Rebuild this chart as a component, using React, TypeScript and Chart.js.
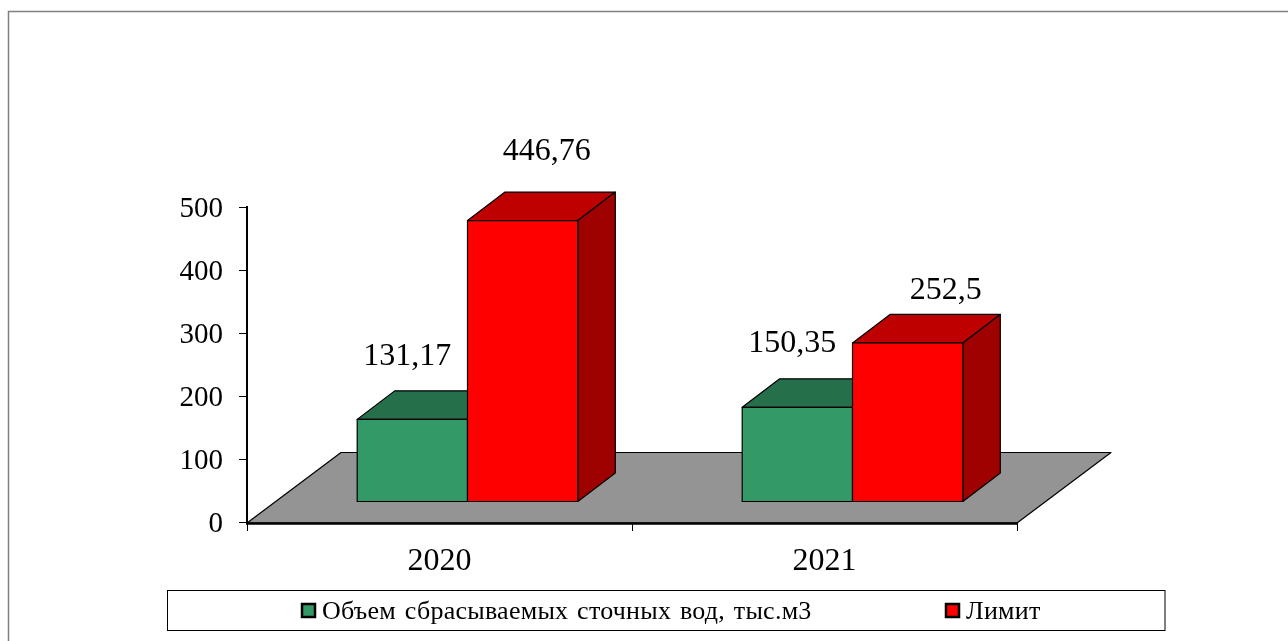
import React, { useEffect, useRef } from "react";
import { Chart, registerables } from "chart.js";

Chart.register(...registerables);

const categories = ["2020", "2021"];
const seriesNames = ["Объем сбрасываемых сточных вод, тыс.м3", "Лимит"];
const drainedVolume = [131.17, 150.35];
const limitVolume = [446.76, 252.5];
const frontColors = ["#339966", "#FF0000"];
const topColors = ["#266F4B", "#BF0000"];
const sideColors = ["#1F5A3D", "#9F0000"];
const labelTexts = [["131,17", "150,35"], ["446,76", "252,5"]];
const labelDx = [[-5, -5], [24, 38]];
const labelDy = [[-62.5, -63.5], [-68.5, -52.5]];

const SERIF = "'Liberation Serif', 'Times New Roman', serif";
const FLOOR_DX = 94, FLOOR_DY = -70.5;
const SHIFT_X = 28, SHIFT_Y = -20;
const DEPTH_X = 37.5, DEPTH_Y = -28.5;

function poly(ctx: CanvasRenderingContext2D, pts: number[][], fill: string) {
  ctx.beginPath();
  pts.forEach((p, i) => (i ? ctx.lineTo(p[0], p[1]) : ctx.moveTo(p[0], p[1])));
  ctx.closePath();
  ctx.fillStyle = fill;
  ctx.fill();
  ctx.lineWidth = 1.2;
  ctx.strokeStyle = "#000";
  ctx.lineJoin = "round";
  ctx.stroke();
}

const threeD = {
  id: "threeD",
  afterLayout(chart: any) {
    chart.scales.y.getLabelItems(chart.chartArea).forEach((it: any) => {
      const t = it.options.translation;
      it.options.translation = [t[0], t[1] + 2];
    });
  },
  beforeDraw(chart: any) {
    const { ctx } = chart;
    ctx.save();
    ctx.fillStyle = "#fff";
    ctx.fillRect(0, 0, chart.width, chart.height);
    ctx.strokeStyle = "#808080";
    ctx.lineWidth = 1.5;
    ctx.beginPath();
    ctx.moveTo(8.5, chart.height);
    ctx.lineTo(8.5, 11.5);
    ctx.lineTo(chart.width, 11.5);
    ctx.stroke();
    ctx.restore();
  },
  beforeDatasetsDraw(chart: any) {
    const { ctx, chartArea: a } = chart;
    ctx.save();
    const y0 = chart.scales.y.getPixelForValue(0) + 1;
    poly(ctx, [
      [a.left, y0],
      [a.right, y0],
      [a.right + FLOOR_DX, y0 + FLOOR_DY],
      [a.left + FLOOR_DX, y0 + FLOOR_DY],
    ], "#949494");
    ctx.translate(SHIFT_X, SHIFT_Y);
    chart.data.datasets.forEach((_: any, d: number) => {
      const meta = chart.getDatasetMeta(d);
      meta.data.forEach((bar: any) => {
        const l = bar.x - bar.width / 2, r = bar.x + bar.width / 2, t = bar.y, b = bar.base;
        poly(ctx, [[l, t], [r, t], [r + DEPTH_X, t + DEPTH_Y], [l + DEPTH_X, t + DEPTH_Y]], topColors[d]);
        poly(ctx, [[r, t], [r, b], [r + DEPTH_X, b + DEPTH_Y], [r + DEPTH_X, t + DEPTH_Y]], sideColors[d]);
      });
      meta.controller.draw();
      meta.data.forEach((bar: any) => {
        ctx.lineWidth = 1.2;
        ctx.strokeStyle = "#000";
        ctx.strokeRect(bar.x - bar.width / 2, bar.y, bar.width, bar.base - bar.y);
      });
    });
    ctx.restore();
  },
  beforeDatasetDraw() {
    return false;
  },
  afterDatasetsDraw(chart: any) {
    const { ctx, chartArea: a } = chart;
    ctx.save();
    ctx.strokeStyle = "#000";
    ctx.lineWidth = 2.5;
    ctx.beginPath();
    ctx.moveTo(a.left - 1, a.bottom + 1.5);
    ctx.lineTo(a.right, a.bottom + 1.5);
    ctx.stroke();
    ctx.fillStyle = "#000";
    ctx.font = `32px ${SERIF}`;
    ctx.textAlign = "center";
    ctx.textBaseline = "middle";
    chart.data.datasets.forEach((_: any, d: number) => {
      chart.getDatasetMeta(d).data.forEach((bar: any, i: number) => {
        ctx.fillText(labelTexts[d][i], bar.x + SHIFT_X + labelDx[d][i], bar.y + SHIFT_Y + labelDy[d][i]);
      });
    });
    ctx.restore();
  },
  afterDraw(chart: any) {
    const { ctx } = chart;
    ctx.save();
    ctx.strokeStyle = "#000";
    ctx.lineWidth = 1;
    ctx.fillStyle = "#fff";
    ctx.fillRect(167.5, 590.5, 997.5, 40);
    ctx.strokeRect(167.5, 590.5, 997.5, 40);
    ctx.font = `26px ${SERIF}`;
    ctx.textBaseline = "middle";
    ctx.textAlign = "left";
    (ctx as any).wordSpacing = "2px";
    (ctx as any).letterSpacing = "0.25px";
    const xs = [301, 945];
    chart.data.datasets.forEach((ds: any, i: number) => {
      ctx.fillStyle = ds.backgroundColor;
      ctx.lineWidth = 2.5;
      ctx.fillRect(xs[i] + 1, 604, 13, 13);
      ctx.strokeRect(xs[i] + 1, 604, 13, 13);
      ctx.fillStyle = "#000";
      ctx.fillText(ds.label, xs[i] + 21, 612);
    });
    ctx.restore();
  },
};

export default function App() {
  const ref = useRef<HTMLCanvasElement>(null);
  useEffect(() => {
    document.body.style.margin = "0";
    const chart = new Chart(ref.current!, {
      type: "bar",
      plugins: [threeD],
      data: {
        labels: categories,
        datasets: [
          { label: seriesNames[0], data: drainedVolume, backgroundColor: frontColors[0], borderWidth: 0 },
          { label: seriesNames[1], data: limitVolume, backgroundColor: frontColors[1], borderWidth: 0 },
        ],
      },
      options: {
        responsive: false,
        animation: false,
        layout: { padding: { left: 147, right: 271, top: 207, bottom: 49 } },
        plugins: { legend: { display: false }, tooltip: { enabled: false } },
        datasets: { bar: { categoryPercentage: 0.573, barPercentage: 1 } },
        scales: {
          x: {
            afterFit: (s: any) => { s.height = 70; },
            grid: { drawOnChartArea: false, drawTicks: true, tickLength: 9, color: "#000", tickColor: "#000", offset: true },
            border: { color: "#000", width: 1 },
            ticks: { color: "#000", font: { family: SERIF, size: 32 }, padding: 11, maxRotation: 0 },
          },
          y: {
            min: 0,
            max: 500,
            afterFit: (s: any) => { s.width = 100; },
            grid: { drawOnChartArea: false, tickLength: 8, color: "#000", tickColor: "#000" },
            border: { color: "#000", width: 2 },
            ticks: { stepSize: 100, color: "#000", font: { family: SERIF, size: 29 }, padding: 16 },
          },
        },
      } as any,
    });
    return () => chart.destroy();
  }, []);
  return <canvas ref={ref} width={1288} height={641} style={{ display: "block" }} />;
}
